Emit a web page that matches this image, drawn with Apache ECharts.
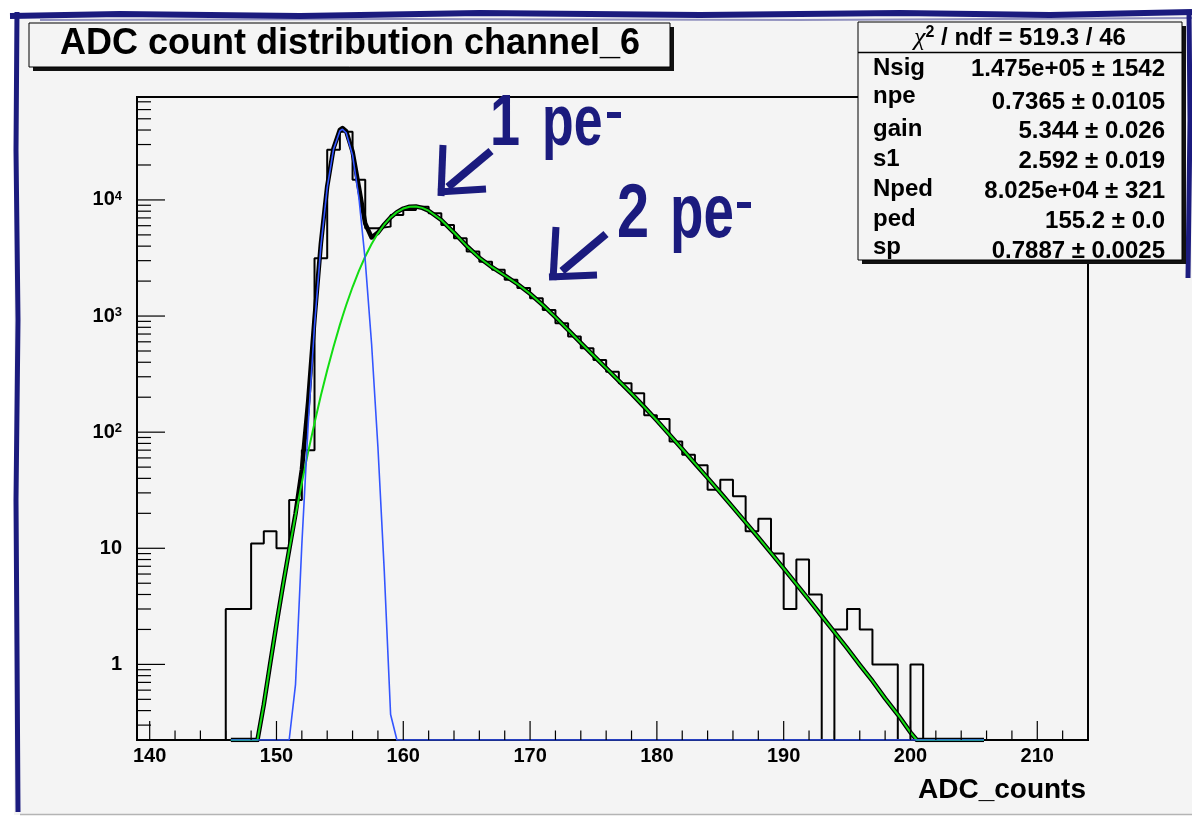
<!DOCTYPE html>
<html>
<head>
<meta charset="utf-8">
<title>ADC count distribution channel_6</title>
<script src="https://cdn.jsdelivr.net/npm/echarts@6/dist/echarts.min.js"></script>
<style>
  html, body { margin: 0; padding: 0; background: #ffffff; }
  #chart { width: 1192px; height: 817px; }
</style>
</head>
<body>
<div id="chart"></div>
<script>
// 直方图：每个 bin 宽 1 个 ADC 计数，第一个 bin 从 146 开始
const histStart = 146
const histCounts = [
  3, 3, 11, 14, 10, 26, 70, 3150, 27000, 38700,
  14900, 5700, 5890, 7430, 8200, 8750, 7680, 6090, 4680, 3590,
  2940, 2500, 2050, 1740, 1420, 1130, 867, 665, 528, 419,
  332, 264, 216, 140, 130, 83, 64, 52, 32, 39,
  28, 14, 18, 9, 3, 8, 4, 0, 2, 3,
  2, 1, 1, 0, 1,
]

// 拟合曲线采样点（从图上读出，0 表示落在坐标轴下限）
const fitX = [
  146.4, 147, 148, 148.5, 149, 149.5, 150, 150.5, 151, 151.5,
  152, 152.5, 153, 153.5, 154, 154.5, 155, 155.2, 155.5, 156,
  156.5, 157, 157.5, 158, 158.5, 159, 159.5, 160, 160.5, 161,
  161.5, 162, 163, 164, 165, 166, 167, 168, 169, 170,
  171, 172, 173, 174, 175, 176, 177, 178, 179, 180,
  181, 182, 183, 184, 185, 186, 187, 188, 189, 190,
  191, 192, 193, 194, 195, 196, 197, 198, 199, 200,
  200.5, 205.8,
]
// 总拟合（黑）
const fitTotal = [
  0, 0, 0, 0.19, 0.45, 1.01, 2.22, 4.72, 9.7, 19.8,
  47.4, 184, 950, 4190, 13100, 27920, 40150, 41580, 39000, 26050,
  12890, 6260, 4750, 5230, 6150, 7071, 7853, 8424, 8737, 8772,
  8540, 8078, 6720, 5236, 4019, 3180, 2634, 2236, 1888, 1555,
  1246, 979, 759, 588, 457, 356, 277, 215, 165, 126,
  95, 71.6, 53.8, 40.4, 30.2, 22.5, 16.7, 12.4, 9.13, 6.71,
  4.92, 3.59, 2.61, 1.9, 1.38, 0.99, 0.72, 0.51, 0.37, 0.26,
  0, 0,
]
// 光电子信号部分（绿）
const fitSignal = [
  0, 0, 0, 0.19, 0.45, 1.01, 2.22, 4.72, 9.67, 19.2,
  36.6, 67.6, 120, 207, 342, 545, 839, 986, 1244, 1778,
  2451, 3257, 4173, 5157, 6148, 7071, 7853, 8424, 8737, 8772,
  8540, 8078, 6720, 5236, 4019, 3180, 2634, 2236, 1888, 1555,
  1246, 979, 759, 588, 457, 356, 277, 215, 165, 126,
  95, 71.6, 53.8, 40.4, 30.2, 22.5, 16.7, 12.4, 9.13, 6.71,
  4.92, 3.59, 2.61, 1.9, 1.38, 0.99, 0.72, 0.51, 0.37, 0.26,
  0, 0,
]
// 台阶（pedestal）部分（蓝）
const fitPedestal = [
  0, 0, 0, 0, 0, 0, 0, 0, 0, 0.67,
  10.8, 116, 830, 3980, 12760, 27380, 39310, 40590, 37760, 24270,
  10440, 3000, 578, 74.5, 6.4, 0.37, 0, 0, 0, 0,
  0, 0, 0, 0, 0, 0, 0, 0, 0, 0,
  0, 0, 0, 0, 0, 0, 0, 0, 0, 0,
  0, 0, 0, 0, 0, 0, 0, 0, 0, 0,
  0, 0, 0, 0, 0, 0, 0, 0, 0, 0,
  0, 0,
]

// 坐标轴范围与刻度
const xMin = 139
const xMax = 214
const yMin = 0.2233
const yMax = 77000
const xLabels = [140, 150, 160, 170, 180, 190, 200, 210]
const xMinorTicks = [142, 144, 146, 148, 152, 154, 156, 158, 162, 164, 166, 168, 172, 174, 176, 178,
  182, 184, 186, 188, 192, 194, 196, 198, 202, 204, 206, 208, 212]
const yMajorTicks = [1, 10, 100, 1000, 10000]
const yTickLabels = ['1', '10', '10{sup|2}', '10{sup|3}', '10{sup|4}']
const yMinorTicks = [0.3, 0.4, 0.5, 0.6, 0.7, 0.8, 0.9, 2, 3, 4, 5, 6, 7, 8, 9,
  20, 30, 40, 50, 60, 70, 80, 90, 200, 300, 400, 500, 600, 700, 800, 900,
  2000, 3000, 4000, 5000, 6000, 7000, 8000, 9000, 20000, 30000, 40000, 50000, 60000, 70000]

// 统计框
const statHeader = '{chi|χ}{sup|2} / ndf = 519.3 / 46'
const statNames = ['Nsig', 'npe', 'gain', 's1', 'Nped', 'ped', 'sp']
const statValues = ['1.475e+05 ± 1542', '0.7365 ± 0.0105', '5.344 ± 0.026', '2.592 ± 0.019',
  '8.025e+04 ± 321', '155.2 ± 0.0', '0.7887 ± 0.0025']

const FONT = '"Liberation Sans", Arial, Helvetica, sans-serif'
const navy = '#1b1b7e'

const floorLog = (v) => Math.max(v, yMin)

// 直方图外轮廓（阶梯线）
const histLine = [[histStart, yMin]]
histCounts.forEach((c, i) => histLine.push([histStart + i, floorLog(c)]))
histLine.push([histStart + histCounts.length, yMin])

const curve = (arr) => fitX.map((x, i) => [x, floorLog(arr[i])])

// 刻度线数据：[x, y, 长度, 是否为 y 轴]
const tickData = []
xLabels.forEach((v) => tickData.push([v, yMin, 19, 0]))
xMinorTicks.forEach((v) => tickData.push([v, yMin, 9.5, 0]))
yMajorTicks.forEach((v) => tickData.push([xMin, v, 28, 1]))
yMinorTicks.forEach((v) => tickData.push([xMin, v, 14, 1]))

const yLabelFormatter = (v) => {
  const i = yMajorTicks.findIndex((t) => Math.abs(t - v) / t < 1e-6)
  return i < 0 ? '' : yTickLabels[i]
}

const boldText = (text, x, y, size, align, extra) => ({
  type: 'text', x, y, z: 130,
  style: Object.assign({ text, fill: '#000', font: 'bold ' + size + 'px ' + FONT, align, verticalAlign: 'middle' }, extra || {}),
})

const handText = (text, x, y, size, sx) => ({
  type: 'text', z: 120, x, y, scaleX: sx,
  style: { text, fill: navy, font: 'bold ' + size + 'px ' + FONT, align: 'left', verticalAlign: 'middle' },
})

const stroke = (points, w) => ({
  type: 'polyline', z: 120, shape: { points }, style: { stroke: navy, lineWidth: w, fill: null },
})

const statRowsY = [68.5, 96, 129, 159, 189, 219, 247]
const statValsY = [69, 102, 131, 161, 191, 221.5, 251]

const graphics = [
  // 外部白边
  { type: 'rect', z: 100, shape: { x: 0, y: 0, width: 1192, height: 13 }, style: { fill: '#fff' } },
  { type: 'rect', z: 100, shape: { x: 0, y: 0, width: 14, height: 817 }, style: { fill: '#fff' } },
  { type: 'rect', z: 100, shape: { x: 0, y: 815, width: 1192, height: 2 }, style: { fill: '#fff' } },
  { type: 'line', z: 101, shape: { x1: 20, y1: 814.5, x2: 1192, y2: 814.5 }, style: { stroke: '#b4b4b4', lineWidth: 1.5 } },
  // 手绘边框
  { type: 'polyline', z: 102, shape: { points: [[10, 16], [120, 14], [300, 16], [480, 13], [700, 15], [900, 13], [1050, 15], [1192, 12]] },
    style: { stroke: navy, lineWidth: 6, fill: null } },
  { type: 'polyline', z: 102, shape: { points: [[40, 20], [400, 19], [800, 20], [1192, 18]] },
    style: { stroke: navy, lineWidth: 2, fill: null, opacity: 0.45 } },
  { type: 'polyline', z: 102, shape: { points: [[17, 12], [16, 150], [18, 320], [16, 500], [17, 650], [18, 812]] },
    style: { stroke: navy, lineWidth: 5, fill: null } },
  { type: 'polyline', z: 102, shape: { points: [[1189, 10], [1190, 120], [1188, 278]] },
    style: { stroke: navy, lineWidth: 5, fill: null } },
  // 标题框
  { type: 'rect', z: 110, shape: { x: 33, y: 27, width: 641, height: 44 }, style: { fill: '#111' } },
  { type: 'rect', z: 111, shape: { x: 29, y: 23, width: 641, height: 44 }, style: { fill: '#f4f4f4', stroke: '#000', lineWidth: 1 } },
  boldText('ADC count distribution channel_6', 350, 44, 36, 'center'),
  // 统计框
  { type: 'rect', z: 110, shape: { x: 862, y: 26, width: 324, height: 238 }, style: { fill: '#111' } },
  { type: 'rect', z: 111, shape: { x: 858, y: 22, width: 324, height: 238 }, style: { fill: '#f4f4f4', stroke: '#000', lineWidth: 1 } },
  { type: 'line', z: 112, shape: { x1: 858, y1: 52.5, x2: 1182, y2: 52.5 }, style: { stroke: '#000', lineWidth: 1.5 } },
  boldText(statHeader, 1020, 38.5, 24, 'center', {
    rich: {
      chi: { fontFamily: '"Liberation Serif", serif', fontStyle: 'italic', fontWeight: 'normal', fontSize: 26 },
      sup: { fontFamily: FONT, fontWeight: 'bold', fontSize: 16, padding: [0, 0, 12, 0] },
    },
  }),
  // 手写标注 “1 pe⁻” “2 pe⁻”
  handText('1', 490, 125, 72, 0.75),
  handText('pe', 542, 125, 72, 0.72),
  { type: 'rect', z: 120, shape: { x: 607, y: 112, width: 14, height: 6 }, style: { fill: navy } },
  handText('2', 617, 216, 76, 0.76),
  handText('pe', 670, 216, 76, 0.72),
  { type: 'rect', z: 120, shape: { x: 737, y: 202, width: 14, height: 6 }, style: { fill: navy } },
  stroke([[443, 145], [441, 196]], 7),
  stroke([[438, 192], [486, 189]], 7),
  stroke([[448, 187], [491, 151]], 8),
  stroke([[556, 227], [553, 280]], 7),
  stroke([[549, 277], [597, 275]], 7),
  stroke([[562, 271], [606, 234]], 8),
]
statNames.forEach((n, i) => graphics.push(boldText(n, 873, statRowsY[i], 24, 'left')))
statValues.forEach((v, i) => graphics.push(boldText(v, 1165, statValsY[i], 24, 'right')))

const myChart = echarts.init(document.getElementById('chart'))
const option = {
  animation: false,
  backgroundColor: '#f4f4f4',
  grid: {
    left: 137, right: 104, top: 97, bottom: 77,
    show: true, borderColor: '#000', borderWidth: 2, backgroundColor: 'transparent',
  },
  xAxis: {
    type: 'value', min: xMin, max: xMax, splitNumber: 8,
    axisLine: { onZero: false, lineStyle: { color: '#000', width: 2 } },
    axisTick: { show: false },
    splitLine: { show: false },
    axisLabel: {
      margin: 6, color: '#000', fontFamily: FONT, fontWeight: 'bold', fontSize: 20,
      formatter: (v) => (xLabels.includes(v) ? String(v) : ''),
    },
    name: 'ADC_counts', nameLocation: 'end', nameGap: -2,
    nameTextStyle: {
      color: '#000', fontFamily: FONT, fontWeight: 'bold', fontSize: 28,
      align: 'right', verticalAlign: 'top', padding: [36, 0, 0, 0],
    },
  },
  yAxis: {
    type: 'log', logBase: 10, min: yMin, max: yMax,
    axisLine: { lineStyle: { color: '#000', width: 2 } },
    axisTick: { show: false },
    splitLine: { show: false },
    axisLabel: {
      margin: 15, color: '#000', fontFamily: FONT, fontWeight: 'bold', fontSize: 20,
      formatter: yLabelFormatter,
      rich: { sup: { fontFamily: FONT, fontWeight: 'bold', fontSize: 13, color: '#000', padding: [0, 0, 8, 0] } },
    },
  },
  series: [
    {
      name: 'ticks', type: 'custom', silent: true, z: 6, data: tickData,
      renderItem: (params, api) => {
        const p = api.coord([api.value(0), api.value(1)])
        const len = api.value(2)
        const onY = api.value(3) === 1
        return {
          type: 'line',
          shape: onY ? { x1: p[0], y1: p[1], x2: p[0] + len, y2: p[1] } : { x1: p[0], y1: p[1], x2: p[0], y2: p[1] - len },
          style: { stroke: '#000', lineWidth: 1.2 },
        }
      },
    },
    {
      name: 'ADC counts', type: 'line', step: 'end', data: histLine, symbol: 'none', silent: true, z: 2,
      lineStyle: { color: '#000', width: 2 },
    },
    {
      name: 'total fit', type: 'line', data: curve(fitTotal), symbol: 'none', silent: true, z: 3,
      lineStyle: { color: '#000', width: 4.5, join: 'round' },
    },
    {
      name: 'signal', type: 'line', data: curve(fitSignal), symbol: 'none', silent: true, z: 4,
      lineStyle: { color: '#12dd12', width: 2, join: 'round' },
    },
    {
      name: 'pedestal', type: 'line', data: curve(fitPedestal), symbol: 'none', silent: true, z: 5,
      lineStyle: { color: '#3355ff', width: 1.6, join: 'round' },
    },
  ],
  graphic: { elements: graphics },
}
myChart.setOption(option)
</script>
</body>
</html>
